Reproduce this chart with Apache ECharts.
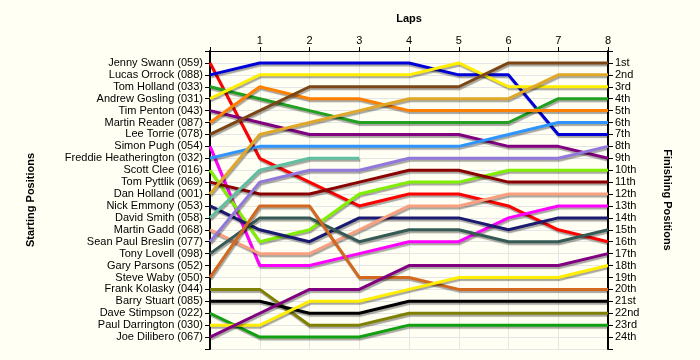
<!DOCTYPE html>
<html>
<head>
<meta charset="utf-8">
<script src="https://cdn.jsdelivr.net/npm/echarts@6/dist/echarts.min.js"></script>
<style>
html,body{margin:0;padding:0;background:#FFFFF4;}
#chart{width:700px;height:360px;}
</style>
</head>
<body>
<div id="chart"></div>
<script>
// Laps (x axis)
var laps = [0, 1, 2, 3, 4, 5, 6, 7, 8];
var lapLabels = ['', '1', '2', '3', '4', '5', '6', '7', '8'];

// Drivers in starting order (left axis labels)
var drivers = [
  'Jenny Swann (059)', 'Lucas Orrock (088)', 'Tom Holland (033)', 'Andrew Gosling (031)',
  'Tim Penton (043)', 'Martin Reader (087)', 'Lee Torrie (078)', 'Simon Pugh (054)',
  'Freddie Heatherington (032)', 'Scott Clee (016)', 'Tom Pyttlik (069)', 'Dan Holland (001)',
  'Nick Emmony (053)', 'David Smith (058)', 'Martin Gadd (068)', 'Sean Paul Breslin (077)',
  'Tony Lovell (098)', 'Gary Parsons (052)', 'Steve Waby (050)', 'Frank Kolasky (044)',
  'Barry Stuart (085)', 'Dave Stimpson (022)', 'Paul Darrington (030)', 'Joe Dilibero (067)'
];

// Finishing position labels (right axis)
var finishLabels = ['1st','2nd','3rd','4th','5th','6th','7th','8th','9th','10th','11th','12th',
  '13th','14th','15th','16th','17th','18th','19th','20th','21st','22nd','23rd','24th'];

// Position of each driver at each lap (lap 0 = start)
var jennySwann      = [1, 9, 11, 13, 12, 12, 13, 15, 16];
var lucasOrrock     = [2, 1, 1, 1, 1, 2, 2, 7, 7];
var tomHolland      = [3, 4, 5, 6, 6, 6, 6, 4, 4];
var andrewGosling   = [4, 2, 2, 2, 2, 1, 3, 3, 3];
var timPenton       = [5, 6, 7, 7, 7, 7, 8, 8, 9];
var martinReader    = [6, 3, 4, 4, 5, 5, 5, 5, 5];
var leeTorrie       = [7, 5, 3, 3, 3, 3, 1, 1, 1];
var simonPugh       = [8, 18, 18, 17, 16, 16, 14, 13, 13];
var freddieH        = [9, 8, 8, 8, 8, 8, 7, 6, 6];
var scottClee       = [10, 16, 15, 12, 11, 11, 10, 10, 10];
var tomPyttlik      = [11, 12, 12, 11, 10, 10, 11, 11, 11];
var danHolland      = [12, 7, 6, 5, 4, 4, 4, 2, 2];
var nickEmmony      = [13, 15, 16, 14, 14, 14, 15, 14, 14];
var davidSmith      = [14, 10, 9, 9];
var martinGadd      = [15, 17, 17, 15, 13, 13, 12, 12, 12];
var seanPaulBreslin = [16, 11, 10, 10, 9, 9, 9, 9, 8];
var tonyLovell      = [17, 14, 14, 16, 15, 15, 16, 16, 15];
var garyParsons     = [];  // no visible line in the reference
var steveWaby       = [19, 13, 13, 19, 19, 20, 20, 20, 20];
var frankKolasky    = [20, 20, 23, 23, 22, 22, 22, 22, 22];
var barryStuart     = [21, 21, 22, 22, 21, 21, 21, 21, 21];
var daveStimpson    = [22, 24, 24, 24, 23, 23, 23, 23, 23];
var paulDarrington  = [23, 23, 21, 21, 20, 19, 19, 19, 18];
var joeDilibero     = [24, 22, 20, 20, 18, 18, 18, 18, 17];

var seriesList = [
  {name: drivers[0],  pos: jennySwann,      color: '#FF0000'},
  {name: drivers[1],  pos: lucasOrrock,     color: '#0000D8'},
  {name: drivers[2],  pos: tomHolland,      color: '#22A022'},
  {name: drivers[3],  pos: andrewGosling,   color: '#FFEE00'},
  {name: drivers[4],  pos: timPenton,       color: '#800080'},
  {name: drivers[5],  pos: martinReader,    color: '#FF8000'},
  {name: drivers[6],  pos: leeTorrie,       color: '#7B4515'},
  {name: drivers[7],  pos: simonPugh,       color: '#FF00FF'},
  {name: drivers[8],  pos: freddieH,        color: '#2E95FF'},
  {name: drivers[9],  pos: scottClee,       color: '#80F000'},
  {name: drivers[10], pos: tomPyttlik,      color: '#8B0000'},
  {name: drivers[11], pos: danHolland,      color: '#E0A828'},
  {name: drivers[12], pos: nickEmmony,      color: '#1A1A70'},
  {name: drivers[13], pos: davidSmith,      color: '#60BFA0'},
  {name: drivers[14], pos: martinGadd,      color: '#F8A080'},
  {name: drivers[15], pos: seanPaulBreslin, color: '#9378DB'},
  {name: drivers[16], pos: tonyLovell,      color: '#355A55'},
  {name: drivers[17], pos: garyParsons,     color: '#FFFFF4'},
  {name: drivers[18], pos: steveWaby,       color: '#D2691E'},
  {name: drivers[19], pos: frankKolasky,    color: '#808000'},
  {name: drivers[20], pos: barryStuart,     color: '#000000'},
  {name: drivers[21], pos: daveStimpson,    color: '#10A010'},
  {name: drivers[22], pos: paulDarrington,  color: '#FFEE00'},
  {name: drivers[23], pos: joeDilibero,     color: '#800080'}
];

var series = seriesList.map(function (s) {
  return {
    name: s.name,
    type: 'line',
    yAxisIndex: 0,
    symbol: 'none',
    animation: false,
    data: s.pos.map(function (p, i) { return [laps[i], p]; }),
    lineStyle: {
      color: s.color, width: 3,
      shadowColor: 'rgba(0,0,0,0.35)', shadowOffsetX: 1, shadowOffsetY: 2, shadowBlur: 1
    },
    itemStyle: {color: s.color}
  };
});

var FONT = 'Liberation Sans';
var chart = echarts.init(document.getElementById('chart'), null, {renderer: 'canvas'});
chart.setOption({
  backgroundColor: '#FFFFF4',
  animation: false,
  grid: {left: 210, right: 92, top: 51, bottom: 11, containLabel: false},
  xAxis: {
    type: 'value', min: 0, max: 8, interval: 1, position: 'top',
    name: 'Laps', nameLocation: 'middle', nameGap: 27,
    nameTextStyle: {fontFamily: FONT, fontSize: 11, fontWeight: 'bold', color: '#000'},
    axisLine: {show: true, lineStyle: {color: '#000', width: 1}},
    axisTick: {show: true, length: 4, lineStyle: {color: '#000'}},
    axisLabel: {
      fontFamily: FONT, fontSize: 11, color: '#000', margin: 5,
      formatter: function (v) { return lapLabels[v] || ''; }
    },
    splitLine: {show: true, lineStyle: {color: '#E6E6E6', width: 1}}
  },
  yAxis: [
    {
      type: 'value', min: 0, max: 25, interval: 1, inverse: true, position: 'left',
      name: 'Starting Positions', nameLocation: 'middle', nameGap: 174, nameRotate: 90,
      nameTextStyle: {fontFamily: FONT, fontSize: 11, fontWeight: 'bold', color: '#000'},
      axisLine: {show: true, lineStyle: {color: '#000', width: 2}},
      axisTick: {show: true, length: 5, lineStyle: {color: '#000'}},
      axisLabel: {
        fontFamily: FONT, fontSize: 11, color: '#000', margin: 7,
        formatter: function (v) { return drivers[v - 1] || ''; }
      },
      splitLine: {show: true, lineStyle: {color: '#E6E6E6', width: 1}}
    },
    {
      type: 'value', min: 0, max: 25, interval: 1, inverse: true, position: 'right',
      name: 'Finishing Positions', nameLocation: 'middle', nameGap: 54, nameRotate: -90,
      nameTextStyle: {fontFamily: FONT, fontSize: 11, fontWeight: 'bold', color: '#000'},
      axisLine: {show: true, lineStyle: {color: '#000', width: 2}},
      axisTick: {show: true, length: 5, lineStyle: {color: '#000'}},
      axisLabel: {
        fontFamily: FONT, fontSize: 11, color: '#000', margin: 7,
        formatter: function (v) { return finishLabels[v - 1] || ''; }
      },
      splitLine: {show: false}
    }
  ],
  series: series
});
</script>
</body>
</html>
